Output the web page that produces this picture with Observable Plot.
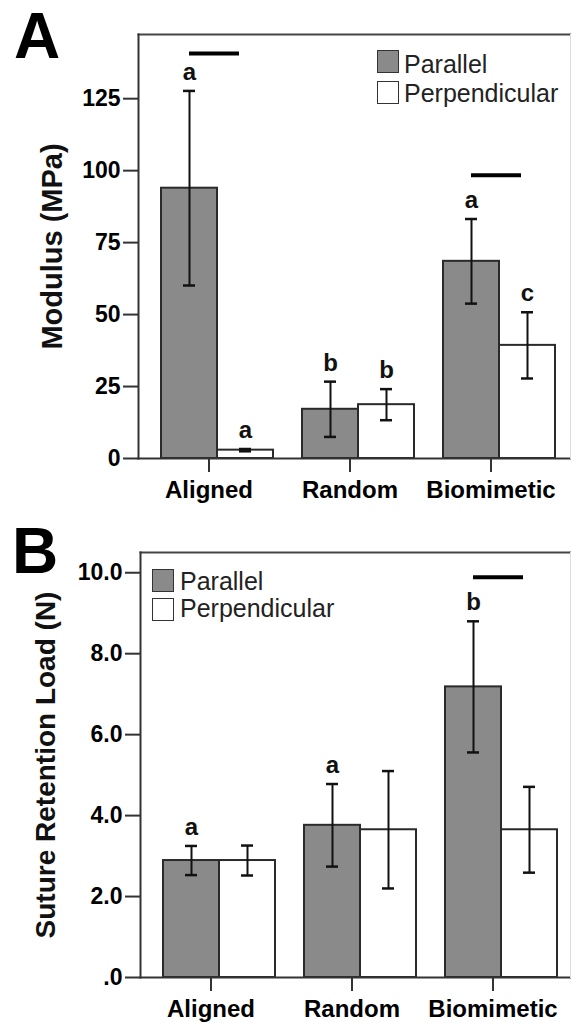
<!DOCTYPE html>
<html><head><meta charset="utf-8">
<script src="https://cdn.jsdelivr.net/npm/d3@7"></script>
<script src="https://cdn.jsdelivr.net/npm/@observablehq/plot@0.6"></script>
<style>
body{margin:0;background:#fff;}
#wrap{position:relative;width:571px;height:1023px;overflow:hidden;font-family:"Liberation Sans",Arial,sans-serif;}
.panel{position:absolute;left:0;}
.plabel{position:absolute;font-weight:bold;font-size:64px;line-height:1;color:#000;}
.legtxt{position:absolute;font-size:25px;line-height:1;color:#222;white-space:nowrap;}
.sw{position:absolute;width:20px;height:21px;border:1.5px solid #333;}
</style></head><body><div id="wrap"></div>
<script>
// ---- shared ----
const categories = ["Aligned", "Random", "Biomimetic"];
const series = ["Parallel", "Perpendicular"];
const fills = ["#8a8a8a", "#ffffff"];

// ---- Panel A: Modulus (MPa) ----
const modulusParallel = [93.9, 17.1, 68.5];
const modulusParallelSD = [33.8, 9.6, 14.7];
const modulusPerp = [2.9, 18.7, 39.3];
const modulusPerpSD = [0.4, 5.4, 11.5];
const modulusLettersParallel = ["a", "b", "a"];
const modulusLettersPerp = ["a", "b", "c"];
const modulusSigCats = ["Aligned", "Biomimetic"];
const modulusSigY = [140.7, 98.4];
const modulusTicks = [0, 25, 50, 75, 100, 125];

// ---- Panel B: Suture Retention Load (N) ----
const loadParallel = [2.89, 3.76, 7.18];
const loadParallelSD = [0.36, 1.02, 1.62];
const loadPerp = [2.89, 3.65, 3.65];
const loadPerpSD = [0.37, 1.45, 1.06];
const loadLettersParallel = ["a", "a", "b"];
const loadLettersPerp = ["", "", ""];
const loadSigCats = ["Biomimetic"];
const loadSigY = [9.89];
const loadTicks = [0, 2, 4, 6, 8, 10];

function buildRows(par, parSD, perp, perpSD, lp, lq) {
  const rows = [];
  categories.forEach((c, i) => {
    rows.push({cat: c, series: series[0], value: par[i], lo: par[i] - parSD[i], hi: par[i] + parSD[i], letter: lp[i]});
    rows.push({cat: c, series: series[1], value: perp[i], lo: perp[i] - perpSD[i], hi: perp[i] + perpSD[i], letter: lq[i]});
  });
  return rows;
}
function buildSig(cats, ys) {
  return cats.map((c, i) => ({cat: c, y: ys[i], from: series[0], to: series[1]}));
}

function panel(o) {
  const ext = -(o.marginRight - 1);
  return Plot.plot({
    width: 571, height: o.height,
    marginTop: o.marginTop, marginBottom: o.marginBottom, marginLeft: o.marginLeft, marginRight: o.marginRight,
    style: {fontFamily: "'Liberation Sans', Arial, sans-serif", fontSize: "23px", fontWeight: "bold", color: "#000", background: "transparent", overflow: "visible"},
    fx: {domain: categories, padding: 0, label: null},
    x: {domain: series, paddingInner: 0, paddingOuter: 0.248, align: 0.79, axis: null},
    y: {domain: [0, o.yMax]},
    color: {domain: series, range: fills},
    marks: [
      Plot.barY(o.rows, {fx: "cat", x: "series", y: "value", fill: "series", stroke: "#2a2a2a", strokeWidth: 2}),
      Plot.ruleX(o.rows, {fx: "cat", x: "series", y1: "lo", y2: "hi", stroke: "#111", strokeWidth: 2}),
      Plot.tickY(o.rows, {fx: "cat", x: "series", y: "hi", insetLeft: 22, insetRight: 22, stroke: "#111", strokeWidth: 2.5}),
      Plot.tickY(o.rows, {fx: "cat", x: "series", y: "lo", insetLeft: 22, insetRight: 22, stroke: "#111", strokeWidth: 2.5}),
      Plot.text(o.rows, {fx: "cat", x: "series", y: "hi", text: "letter", dy: -11, lineAnchor: "bottom", fontSize: 24, fill: "#111"}),
      Plot.ruleY(o.sig, {fx: "cat", x1: "from", x2: "to", y: "y", insetLeft: 28, insetRight: 34, stroke: "#000", strokeWidth: 4}),
      Plot.frame({anchor: "bottom", facet: "super", stroke: "#333", strokeWidth: 2, insetRight: ext}),
      Plot.frame({anchor: "top", facet: "super", stroke: "#444", strokeWidth: 2, insetRight: ext}),
      Plot.frame({anchor: "right", facet: "super", stroke: "#ddd", strokeWidth: 1, insetRight: ext}),
      Plot.frame({anchor: "left", facet: "super", stroke: "#333", strokeWidth: 2}),
      Plot.axisY({ticks: o.ticks, tickFormat: o.tickFormat, tickSize: 15, tickPadding: 3, label: null, fontSize: 23, strokeWidth: 2, stroke: "#333"}),
      Plot.text([o.label], {facet: "super", frameAnchor: "left", textAnchor: "middle", lineAnchor: "middle", rotate: -90, dx: -o.labelOffset, fontSize: o.labelSize, fill: "#111"}),
      Plot.axisFx({anchor: "bottom", tickSize: 14, tickPadding: 8, label: null, fontSize: 24, strokeWidth: 2, stroke: "#333"})
    ]
  });
}

const wrap = document.getElementById("wrap");

const svgA = panel({
  rows: buildRows(modulusParallel, modulusParallelSD, modulusPerp, modulusPerpSD, modulusLettersParallel, modulusLettersPerp),
  sig: buildSig(modulusSigCats, modulusSigY),
  yMax: 147.3, ticks: modulusTicks, tickFormat: d => String(d),
  label: "Modulus (MPa)", labelSize: 29, labelOffset: 86,
  height: 510, marginTop: 34, marginBottom: 52, marginLeft: 138, marginRight: 10
});
const svgB = panel({
  rows: buildRows(loadParallel, loadParallelSD, loadPerp, loadPerpSD, loadLettersParallel, loadLettersPerp),
  sig: buildSig(loadSigCats, loadSigY),
  yMax: 10.5, ticks: loadTicks, tickFormat: d => d === 0 ? ".0" : d.toFixed(1),
  label: "Suture Retention Load (N)", labelSize: 28, labelOffset: 94,
  height: 513, marginTop: 42, marginBottom: 46, marginLeft: 140, marginRight: 8
});

const pa = document.createElement("div"); pa.className = "panel"; pa.style.top = "0px"; pa.appendChild(svgA); wrap.appendChild(pa);
const pb = document.createElement("div"); pb.className = "panel"; pb.style.top = "510px"; pb.appendChild(svgB); wrap.appendChild(pb);

function addText(cls, txt, left, top) {
  const d = document.createElement("div"); d.className = cls; d.textContent = txt;
  d.style.left = left + "px"; d.style.top = top + "px"; wrap.appendChild(d); return d;
}
addText("plabel", "A", 14, 4);
addText("plabel", "B", 12, 519);

function legend(swLeft, swTops, txtLeft, txtTops) {
  series.forEach((s, i) => {
    const sw = document.createElement("div"); sw.className = "sw";
    sw.style.left = swLeft + "px"; sw.style.top = swTops[i] + "px"; sw.style.background = fills[i];
    wrap.appendChild(sw);
    addText("legtxt", s, txtLeft, txtTops[i]);
  });
}
legend(377, [50, 81], 404, [52, 81]);
legend(152, [569, 598], 180, [569, 596]);
</script></body></html>
